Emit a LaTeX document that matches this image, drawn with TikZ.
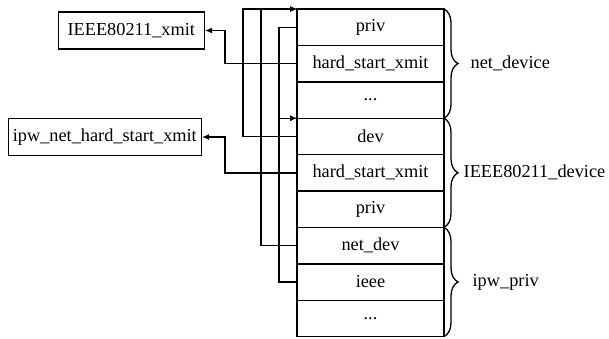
\documentclass[tikz,border=0pt]{standalone}
\usepackage{fontspec}
\setmainfont{Liberation Serif}
\usetikzlibrary{arrows.meta,positioning,decorations.pathreplacing,calc}

\begin{document}
\begin{tikzpicture}[x=1pt,y=1pt,>={Latex[length=7pt,width=6pt]}]
\tikzset{
  basic/.style  = {draw, line width=1.4pt, rectangle, inner sep=0pt,
                   font=\fontsize{18.3}{22}\selectfont},
  cell/.style   = {basic, minimum width=147, minimum height=36.4,
                   outer sep=0pt},
  func/.style   = {basic, minimum height=37},
  ptr/.style    = {->, line width=1.4pt},
  brace/.style  = {decorate, decoration={brace, amplitude=14pt},
                   line width=1.3pt},
  lbl/.style    = {font=\fontsize{18.3}{22}\selectfont, inner sep=0pt,
                   anchor=west}
}
\useasboundingbox (0,0) rectangle (609,-338);

% the three structures, one cell below the other
\node[cell, anchor=north west] (c1) at (297,-9) {priv};
\node[cell, below=0pt of c1] (c2) {hard\_start\_xmit};
\node[cell, below=0pt of c2] (c3) {...};
\node[cell, below=0pt of c3] (c4) {dev};
\node[cell, below=0pt of c4] (c5) {hard\_start\_xmit};
\node[cell, below=0pt of c5] (c6) {priv};
\node[cell, below=0pt of c6] (c7) {net\_dev};
\node[cell, below=0pt of c7] (c8) {ieee};
\node[cell, below=0pt of c8] (c9) {...};

% the functions
\node[func, anchor=east, minimum width=146] (xmit) at (205,-30.5) {IEEE80211\_xmit};
\node[func, anchor=east, minimum width=193] (ipwxmit) at (202,-137) {ipw\_net\_hard\_start\_xmit};

% braces
\draw[brace] (c1.north east) -- (c3.south east)
  node[lbl, midway, xshift=26pt] {net\_device};
\draw[brace] (c4.north east) -- (c6.south east)
  node[lbl, midway, xshift=19pt] {IEEE80211\_device};
\draw[brace] (c7.north east) -- (c9.south east)
  node[lbl, midway, xshift=28pt] {ipw\_priv};

% function pointers
\draw[ptr] (c2.west) -- ++(-72,0) |- (xmit.east);
\draw[ptr] (c5.west) -- ++(-72,0) |- (ipwxmit.east);

% back pointers
\draw[ptr] (c4.west) -- ++(-54,0) |- (c1.north west);
\draw[ptr] (c7.west) -- ++(-36,0) |- (c1.north west);
\draw[ptr] (c1.west) -- ++(-18,0) |- (c4.north west);
\draw[ptr] (c8.west) -- ++(-18,0) |- (c4.north west);
\end{tikzpicture}
\end{document}
